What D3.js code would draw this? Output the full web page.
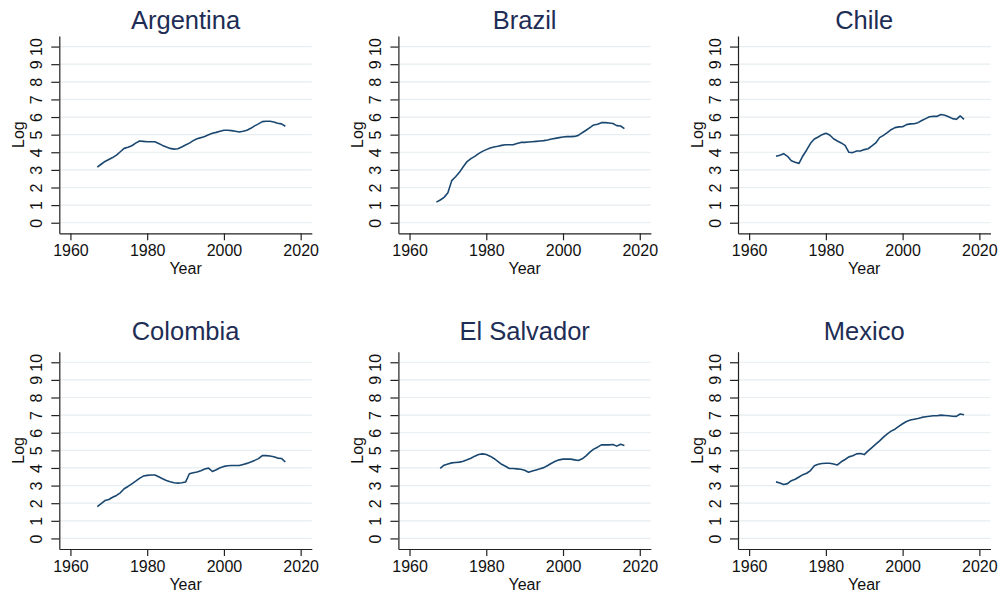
<!DOCTYPE html>
<html>
<head>
<meta charset="utf-8">
<script src="https://cdn.jsdelivr.net/npm/d3@7"></script>
<style>
  body { margin: 0; background: #fff; }
  svg { display: block; font-family: "Liberation Sans", Arial, sans-serif; }
</style>
</head>
<body>
<svg id="vis" width="1003" height="596"></svg>
<script>
// years covered by each series
const years = [1967, 1968, 1969, 1970, 1971, 1972, 1973, 1974, 1975, 1976,
  1977, 1978, 1979, 1980, 1981, 1982, 1983, 1984, 1985, 1986,
  1987, 1988, 1989, 1990, 1991, 1992, 1993, 1994, 1995, 1996,
  1997, 1998, 1999, 2000, 2001, 2002, 2003, 2004, 2005, 2006,
  2007, 2008, 2009, 2010, 2011, 2012, 2013, 2014, 2015, 2016];
const yearsSalvador = years.slice(1);

// log values
const argentina = [3.15, 3.32, 3.48, 3.59, 3.70, 3.84, 4.03, 4.22, 4.28, 4.37,
  4.52, 4.64, 4.62, 4.60, 4.60, 4.60, 4.50, 4.39, 4.30, 4.22,
  4.18, 4.20, 4.30, 4.41, 4.52, 4.66, 4.77, 4.83, 4.90, 5.00,
  5.08, 5.13, 5.19, 5.25, 5.25, 5.23, 5.19, 5.15, 5.19, 5.25,
  5.36, 5.50, 5.61, 5.74, 5.76, 5.76, 5.72, 5.65, 5.61, 5.48];
const brazil = [1.17, 1.29, 1.44, 1.70, 2.39, 2.61, 2.86, 3.18, 3.47, 3.64,
  3.77, 3.92, 4.05, 4.15, 4.24, 4.30, 4.34, 4.39, 4.43, 4.43,
  4.43, 4.50, 4.56, 4.56, 4.58, 4.60, 4.62, 4.64, 4.66, 4.70,
  4.75, 4.79, 4.83, 4.87, 4.89, 4.89, 4.90, 4.96, 5.11, 5.25,
  5.40, 5.55, 5.59, 5.68, 5.68, 5.66, 5.63, 5.51, 5.49, 5.34];
const chile = [3.77, 3.83, 3.92, 3.77, 3.52, 3.43, 3.37, 3.79, 4.13, 4.51,
  4.75, 4.87, 5.00, 5.08, 4.98, 4.77, 4.64, 4.53, 4.39, 4.00,
  3.98, 4.07, 4.07, 4.15, 4.20, 4.36, 4.53, 4.83, 4.96, 5.11,
  5.28, 5.40, 5.44, 5.45, 5.57, 5.61, 5.62, 5.68, 5.80, 5.91,
  6.02, 6.04, 6.04, 6.14, 6.10, 6.02, 5.91, 5.87, 6.06, 5.87];
const colombia = [1.81, 1.98, 2.15, 2.21, 2.34, 2.44, 2.59, 2.82, 2.95, 3.10,
  3.25, 3.41, 3.54, 3.58, 3.60, 3.60, 3.50, 3.39, 3.29, 3.22,
  3.16, 3.14, 3.16, 3.20, 3.67, 3.73, 3.77, 3.84, 3.94, 3.99,
  3.80, 3.90, 4.01, 4.09, 4.13, 4.14, 4.14, 4.14, 4.20, 4.26,
  4.34, 4.43, 4.53, 4.70, 4.70, 4.68, 4.64, 4.56, 4.54, 4.34];
const salvador = [3.98, 4.16, 4.23, 4.29, 4.31, 4.33, 4.38, 4.46, 4.55,
  4.67, 4.76, 4.80, 4.76, 4.67, 4.54, 4.38, 4.21, 4.10, 3.97,
  3.97, 3.95, 3.93, 3.87, 3.76, 3.83, 3.89, 3.95, 4.02, 4.14,
  4.27, 4.38, 4.46, 4.50, 4.50, 4.50, 4.46, 4.42, 4.52, 4.69,
  4.90, 5.07, 5.18, 5.31, 5.31, 5.31, 5.33, 5.24, 5.35, 5.28];
const mexico = [3.21, 3.15, 3.06, 3.11, 3.28, 3.36, 3.49, 3.62, 3.70, 3.85,
  4.12, 4.21, 4.25, 4.27, 4.27, 4.23, 4.17, 4.35, 4.48, 4.63,
  4.69, 4.80, 4.82, 4.76, 4.97, 5.16, 5.35, 5.54, 5.75, 5.94,
  6.09, 6.20, 6.36, 6.51, 6.64, 6.72, 6.77, 6.81, 6.87, 6.91,
  6.94, 6.96, 6.96, 7.00, 6.98, 6.96, 6.94, 6.93, 7.06, 7.02];

const countries = ["Argentina", "Brazil", "Chile", "Colombia", "El Salvador", "Mexico"];
const seriesYears = [years, years, years, years, yearsSalvador, years];
const seriesValues = [argentina, brazil, chile, colombia, salvador, mexico];

// axis ticks
const xTicks = [1960, 1980, 2000, 2020];
const yTicks = [0, 1, 2, 3, 4, 5, 6, 7, 8, 9, 10];

const layout = {
  left: [59.3, 398.4, 738],
  top: [36, 351.7],
  titleY: [28.5, 339.5],
  width: 252.5,
  height: 197.3
};

const colors = {
  line: "#1a476f",
  grid: "#e6eef1",
  axis: "#222",
  title: "#1e2d55",
  text: "#111"
};

const svg = d3.select("body").select("svg#vis");

const x = d3.scaleLinear([1957.1, 2022.9], [0, layout.width]);
const y = d3.scaleLinear([-0.6, 10.6], [layout.height, 0]);

const line = d3.line()
  .x(d => x(d.year))
  .y(d => y(d.value));

countries.forEach(function(name, i) {
  const col = i % 3;
  const row = Math.floor(i / 3);
  const data = seriesYears[i].map((yr, j) => ({year: yr, value: seriesValues[i][j]}));
  drawPanel(name, data, layout.left[col], layout.top[row], layout.titleY[row]);
});

function drawPanel(name, data, px, py, ty) {
  const g = svg.append("g")
    .attr("class", "panel")
    .attr("transform", `translate(${px},${py})`);

  // horizontal gridlines
  g.append("g").selectAll("line.grid")
    .data(yTicks)
    .enter()
    .append("line")
    .attr("class", "grid")
    .attr("x1", 0)
    .attr("x2", layout.width)
    .attr("y1", d => y(d))
    .attr("y2", d => y(d))
    .attr("stroke", colors.grid)
    .attr("stroke-width", 1.2);

  // y axis with rotated labels (stata style)
  const yAxis = g.append("g")
    .attr("color", colors.axis)
    .call(d3.axisLeft(y).tickValues(yTicks).tickSize(8).tickSizeOuter(0));
  yAxis.select(".domain").attr("stroke-width", 1.2);
  yAxis.selectAll(".tick line").attr("stroke-width", 1.2);
  yAxis.selectAll(".tick text")
    .attr("x", null)
    .attr("dy", null)
    .attr("text-anchor", "middle")
    .attr("transform", "translate(-17,0) rotate(-90)")
    .attr("fill", colors.text)
    .style("font-size", "16px");

  // x axis
  const xAxis = g.append("g")
    .attr("color", colors.axis)
    .attr("transform", `translate(0,${layout.height})`)
    .call(d3.axisBottom(x).tickValues(xTicks).tickSize(7).tickSizeOuter(0).tickFormat(d3.format("d")));
  xAxis.select(".domain").attr("stroke-width", 1.2);
  xAxis.selectAll(".tick line").attr("stroke-width", 1.2);
  xAxis.selectAll(".tick text")
    .attr("y", 22.7)
    .attr("dy", null)
    .attr("fill", colors.text)
    .style("font-size", "16px");

  // axis titles
  g.append("text")
    .attr("x", layout.width / 2)
    .attr("y", layout.height + 40.7)
    .attr("text-anchor", "middle")
    .attr("fill", colors.text)
    .style("font-size", "16px")
    .text("Year");

  g.append("text")
    .attr("transform", `translate(-35.5,${layout.height / 2}) rotate(-90)`)
    .attr("text-anchor", "middle")
    .attr("fill", colors.text)
    .style("font-size", "16px")
    .text("Log");

  // panel title
  svg.append("text")
    .attr("x", px + layout.width / 2)
    .attr("y", ty)
    .attr("text-anchor", "middle")
    .attr("fill", colors.title)
    .style("font-size", "25.5px")
    .text(name);

  // the series itself
  g.append("path")
    .datum(data)
    .attr("d", line)
    .attr("fill", "none")
    .attr("stroke", colors.line)
    .attr("stroke-width", 1.6)
    .attr("stroke-linejoin", "round");
}
</script>
</body>
</html>
